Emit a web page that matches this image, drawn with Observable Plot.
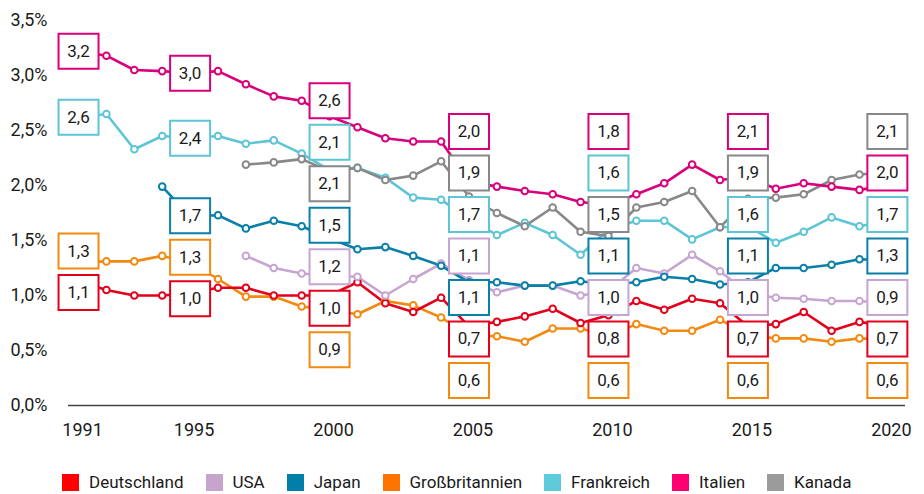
<!DOCTYPE html>
<html>
<head>
<meta charset="utf-8">
<script src="https://cdn.jsdelivr.net/npm/d3@7"></script>
<script src="https://cdn.jsdelivr.net/npm/@observablehq/plot@0.6"></script>
<style>
  body { margin: 0; background: #fff; font-family: Roboto, 'Liberation Sans', sans-serif; }
  #legend { display: flex; align-items: center; height: 20px; margin-top: 22px; padding-left: 62px; font-size: 17px; color: #1a1a1a; }
  #legend .item { display: flex; align-items: center; margin-right: 22px; }
  #legend .sw { width: 17px; height: 17px; margin-right: 10px; }
</style>
</head>
<body>
<div id="chart"></div>
<div id="legend"></div>
<script>
// ---- data ----
const years = [1991,1992,1993,1994,1995,1996,1997,1998,1999,2000,2001,2002,2003,2004,2005,2006,2007,2008,2009,2010,2011,2012,2013,2014,2015,2016,2017,2018,2019,2020];
const countries = ["Deutschland","USA","Japan","Großbritannien","Frankreich","Italien","Kanada"];
const deutschland = [1.13,1.05,1.00,1.00,1.02,1.07,1.07,1.00,1.00,1.00,1.12,0.93,0.85,0.98,0.72,0.76,0.81,0.88,0.75,0.82,0.95,0.87,0.97,0.93,0.72,0.74,0.85,0.68,0.76,0.72];
const usa = [null,null,null,null,null,null,1.36,1.25,1.20,1.18,1.17,1.00,1.15,1.29,1.14,1.03,1.09,1.09,1.00,1.04,1.25,1.20,1.37,1.22,1.02,0.98,0.97,0.95,0.95,0.93];
const japan = [null,null,null,1.99,1.72,1.73,1.61,1.68,1.63,1.52,1.42,1.44,1.36,1.27,1.12,1.12,1.09,1.09,1.13,1.10,1.12,1.17,1.15,1.10,1.12,1.25,1.25,1.28,1.33,1.32];
const grossbritannien = [1.30,1.31,1.31,1.36,1.30,1.15,0.99,0.99,0.90,0.87,0.83,0.95,0.91,0.80,0.64,0.63,0.58,0.70,0.70,0.63,0.74,0.68,0.68,0.78,0.64,0.61,0.61,0.58,0.61,0.60];
const frankreich = [2.62,2.65,2.33,2.45,2.43,2.45,2.38,2.41,2.29,2.14,2.16,2.07,1.89,1.87,1.70,1.55,1.66,1.55,1.37,1.60,1.68,1.68,1.51,1.62,1.63,1.48,1.58,1.71,1.63,1.68];
const italien = [3.22,3.18,3.05,3.04,3.02,3.04,2.92,2.81,2.77,2.63,2.53,2.43,2.40,2.40,2.04,1.99,1.95,1.92,1.85,1.82,1.92,2.02,2.19,2.05,2.08,1.97,2.02,1.99,1.96,2.00];
const kanada = [null,null,null,null,null,null,2.19,2.21,2.24,2.13,2.16,2.05,2.09,2.22,1.90,1.75,1.63,1.80,1.58,1.54,1.80,1.85,1.95,1.62,1.88,1.89,1.92,2.05,2.10,2.12];
const labelYears = [1991,1995,2000,2005,2010,2015,2020];
const yTicks = [0,0.5,1,1.5,2,2.5,3,3.5];
const xTicks = [1991,1995,2000,2005,2010,2015,2020];

// ---- styles ----
const colors = ["#e3001b","#c7a5d2","#0a7fa8","#f28a12","#5dc5d5","#d9007b","#888888"];
const legendColors = ["#ff0000","#c8a3cd","#0080a8","#ff7300","#5ecbdb","#ff0073","#9b9b9b"];
const FONT = "Roboto, 'Liberation Sans', sans-serif";
const W = 924, H = 450, MT = 20, MB = 45, ML = 68, MR = 19;
const yMax = 3.5;
const pxPerUnit = (H - MT - MB) / yMax;

const seriesValues = [deutschland, usa, japan, grossbritannien, frankreich, italien, kanada];
const rows = [];
seriesValues.forEach((vals, si) => {
  vals.forEach((v, i) => { if (v != null) rows.push({country: countries[si], year: years[i], value: v}); });
});
const drawOrder = ["Großbritannien","Deutschland","USA","Frankreich","Kanada","Japan","Italien"];
rows.sort((a, b) => drawOrder.indexOf(a.country) - drawOrder.indexOf(b.country));

// ---- label placement (dodge in pixel space) ----
const fmt = v => v.toFixed(1).replace(".", ",");
const toPx = v => MT + (yMax - v) * pxPerUnit;
const toVal = p => yMax - (p - MT) / pxPerUnit;
const STEP = 41.5, MAXPY = 380;
const labels = [];
labelYears.forEach(yr => {
  const idx = years.indexOf(yr);
  const items = [];
  seriesValues.forEach((vals, si) => {
    const v = vals[idx];
    if (v != null) items.push({country: countries[si], year: yr, value: v, t: toPx(v), text: fmt(v)});
  });
  items.sort((a, b) => a.t - b.t);
  const place = g => {
    const n = g.m.length;
    let top = d3.mean(g.m, (d, i) => d.t - i * STEP);
    top = Math.min(top, MAXPY - (n - 1) * STEP);
    g.top = top;
  };
  const groups = items.map(d => ({m: [d]}));
  groups.forEach(place);
  let merged = true;
  while (merged) {
    merged = false;
    for (let i = 1; i < groups.length; i++) {
      const a = groups[i - 1], b = groups[i];
      if (b.top < a.top + a.m.length * STEP) {
        a.m.push(...b.m); place(a); groups.splice(i, 1); merged = true; break;
      }
    }
  }
  groups.forEach(g => g.m.forEach((d, i) => { d.ly = toVal(g.top + i * STEP); labels.push(d); }));
});

const boxSymbol = { draw(ctx) { ctx.moveTo(-20, -17.5); ctx.lineTo(20, -17.5); ctx.lineTo(20, 17.5); ctx.lineTo(-20, 17.5); ctx.closePath(); } };

const chart = Plot.plot({
  width: W, height: H,
  marginTop: MT, marginBottom: MB, marginLeft: ML, marginRight: MR,
  style: { fontFamily: FONT, fontSize: "18px", color: "#1a1a1a", background: "#fff" },
  x: { type: "linear", domain: [1990.64, 2020.65] },
  y: { domain: [0, yMax] },
  color: { domain: countries, range: colors },
  marks: [
    Plot.axisY({ ticks: yTicks, tickSize: 0, tickPadding: 21, tickFormat: d => fmt(d) + "%", fontSize: 18, label: null }),
    Plot.axisX({ ticks: xTicks, tickSize: 0, tickPadding: 18, tickFormat: d => String(d), dx: 4, fontSize: 18, label: null }),
    Plot.ruleY([0], { stroke: "#444", strokeWidth: 1.5 }),
    Plot.line(rows, { x: "year", y: "value", z: "country", stroke: "country", strokeWidth: 2.6 }),
    Plot.dot(rows, { x: "year", y: "value", stroke: "country", fill: "white", r: 3.3, strokeWidth: 2 }),
    Plot.dot(labels, { x: "year", y: "ly", symbol: boxSymbol, stroke: "country", fill: "white", strokeWidth: 2 }),
    Plot.text(labels, { x: "year", y: "ly", text: "text", fill: "#1a1a1a", fontSize: 17 })
  ]
});
document.getElementById("chart").appendChild(chart);

// ---- legend ----
const legend = document.getElementById("legend");
countries.forEach((c, i) => {
  const item = document.createElement("div");
  item.className = "item";
  const sw = document.createElement("span");
  sw.className = "sw";
  sw.style.background = legendColors[i];
  const tx = document.createElement("span");
  tx.textContent = c;
  item.appendChild(sw); item.appendChild(tx);
  legend.appendChild(item);
});
</script>
</body>
</html>
